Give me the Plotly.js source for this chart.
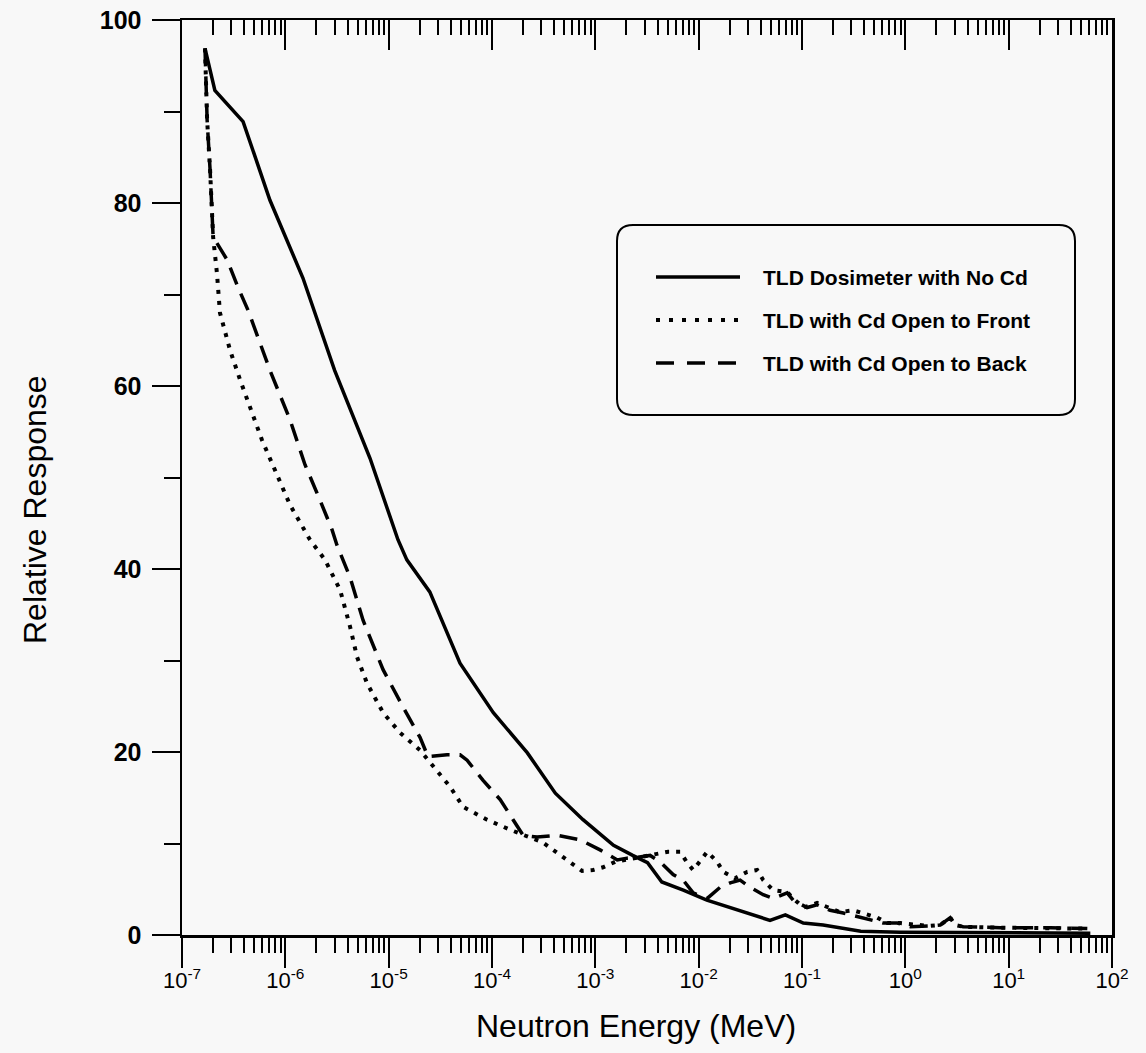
<!DOCTYPE html>
<html>
<head>
<meta charset="utf-8">
<script src="https://cdn.plot.ly/plotly-3.0.1.min.js"></script>
<style>html,body{margin:0;padding:0;background:#f8f8f8;}</style>
</head>
<body>
<div id="chart" style="width:1146px;height:1053px;"></div>
<script>
// ---- data (energy in MeV, relative response) ----
var seriesNames = ["TLD Dosimeter with No Cd", "TLD with Cd Open to Front", "TLD with Cd Open to Back"];

var energyNoCd = [1.67e-7, 2.08e-7, 3.9e-7, 7.1e-7, 1.48e-6, 3.0e-6, 6.6e-6, 1.23e-5, 1.5e-5, 2.5e-5, 4.9e-5,
  1.03e-4, 2.2e-4, 4.1e-4, 7.6e-4, 1.5e-3, 2.3e-3, 3.2e-3, 4.4e-3, 7.1e-3, 1.2e-2, 2.0e-2, 3.4e-2, 4.9e-2,
  6.9e-2, 0.103, 0.16, 0.234, 0.37, 0.89, 8.3, 61.7];
var respNoCd = [96.9, 92.3, 88.9, 80.3, 71.8, 61.7, 52.1, 43.2, 41.0, 37.5, 29.7,
  24.3, 19.9, 15.5, 12.6, 9.8, 8.7, 7.9, 5.8, 4.9, 3.8, 3.0, 2.2, 1.6,
  2.2, 1.3, 1.1, 0.8, 0.4, 0.3, 0.2, 0.2];

var energyFront = [1.67e-7, 1.75e-7, 1.87e-7, 2.0e-7, 2.18e-7, 2.33e-7, 2.92e-7, 3.64e-7, 5.94e-7, 1.11e-6,
  1.73e-6, 2.42e-6, 3.39e-6, 4.23e-6, 4.94e-6, 6.18e-6, 8.83e-6, 1.29e-5, 2.01e-5, 2.94e-5, 3.93e-5, 5.25e-5,
  8.97e-5, 1.5e-4, 3.12e-4, 4.88e-4, 7.45e-4, 9.5e-4, 1.19e-3, 1.56e-3, 2.72e-3, 5.07e-3, 6.62e-3, 7.74e-3,
  8.85e-3, 1.03e-2, 1.21e-2, 1.51e-2, 1.73e-2, 2.25e-2, 2.95e-2, 3.68e-2, 4.21e-2, 5.26e-2, 7.19e-2, 8.22e-2,
  0.103, 0.14, 0.175, 0.234, 0.313, 0.391, 0.535, 0.668, 0.893, 1.31, 1.74, 2.18, 2.72, 3.04, 3.63, 8.3, 25.3, 57.7];
var respFront = [96.9, 89.1, 83.6, 76.3, 72.3, 68.0, 63.9, 60.7, 54.1, 47.0,
  43.2, 41.0, 37.7, 33.7, 30.4, 27.5, 24.3, 22.1, 20.2, 18.0, 16.2, 14.0,
  12.6, 11.5, 10.1, 8.5, 7.0, 7.1, 7.4, 8.0, 8.5, 9.1, 9.1, 7.9,
  7.1, 8.0, 9.1, 8.0, 6.9, 6.2, 6.9, 7.1, 6.0, 4.9, 4.7, 4.0,
  3.0, 3.5, 3.1, 2.5, 2.7, 2.4, 1.9, 1.3, 1.3, 1.1, 1.0, 1.1, 1.9, 1.1, 0.9, 0.8, 0.8, 0.7];

var energyBack = [1.67e-7, 1.75e-7, 1.87e-7, 2.0e-7, 2.73e-7, 3.48e-7, 4.35e-7, 7.11e-7, 1.11e-6, 1.55e-6,
  2.17e-6, 2.83e-6, 3.16e-6, 4.23e-6, 5.65e-6, 8.83e-6, 1.38e-5, 2.01e-5, 2.4e-5, 3.67e-5, 4.91e-5, 5.74e-5,
  8.2e-5, 1.2e-4, 1.6e-4, 2.0e-4, 2.73e-4, 4.27e-4, 7.13e-4, 1.11e-3, 1.63e-3, 2.03e-3, 2.54e-3, 3.39e-3,
  4.24e-3, 5.66e-3, 7.08e-3, 8.85e-3, 1.21e-2, 1.61e-2, 2.02e-2, 2.52e-2, 3.16e-2, 4.21e-2, 5.26e-2, 7.19e-2,
  8.22e-2, 0.112, 0.14, 0.187, 0.251, 0.343, 0.489, 0.611, 0.836, 1.12, 1.74, 2.18, 2.72, 3.04, 3.63, 8.3, 25.3, 57.7];
var respBack = [96.9, 89.1, 83.6, 76.3, 73.8, 70.8, 68.3, 61.7, 56.3, 51.4,
  47.5, 44.3, 42.6, 39.1, 34.4, 29.0, 24.9, 21.6, 19.5, 19.7, 19.7, 19.1,
  16.9, 14.8, 12.6, 10.9, 10.7, 10.9, 10.4, 9.3, 8.2, 8.4, 8.5, 8.7,
  8.0, 6.6, 6.0, 4.6, 4.0, 5.2, 5.7, 6.0, 5.2, 4.4, 4.0, 4.6,
  3.8, 3.0, 3.3, 2.7, 2.4, 2.0, 1.6, 1.3, 1.3, 0.9, 1.0, 1.1, 1.9, 1.1, 0.9, 0.8, 0.8, 0.7];

var xTickVals = [1e-7, 1e-6, 1e-5, 1e-4, 1e-3, 1e-2, 1e-1, 1e0, 1e1, 1e2];
var xTickText = ["10<sup>-7</sup>", "10<sup>-6</sup>", "10<sup>-5</sup>", "10<sup>-4</sup>", "10<sup>-3</sup>",
  "10<sup>-2</sup>", "10<sup>-1</sup>", "10<sup>0</sup>", "10<sup>1</sup>", "10<sup>2</sup>"];

var xTitle = "Neutron Energy (MeV)";
var yTitle = "Relative Response";

// ---- styles ----
var FONT = "Liberation Sans, Arial, sans-serif";
var INK = "#000000";
var BG = "#f8f8f8";
var dashStyles = ["solid", "4px,7px", "18px,10px"];
var lineWidths = [3.5, 4, 3.5];

var traces = [
  {x: energyNoCd, y: respNoCd, name: seriesNames[0], mode: "lines",
   line: {color: INK, width: lineWidths[0], dash: dashStyles[0]}, showlegend: false},
  {x: energyFront, y: respFront, name: seriesNames[1], mode: "lines",
   line: {color: INK, width: lineWidths[1], dash: dashStyles[1]}, showlegend: false},
  {x: energyBack, y: respBack, name: seriesNames[2], mode: "lines",
   line: {color: INK, width: lineWidths[2], dash: dashStyles[2]}, showlegend: false},
  // carrier for the top (inside-tick) axis
  {x: energyNoCd, y: respNoCd, xaxis: "x2", mode: "none", hoverinfo: "skip", showlegend: false}
];

// plot area in pixels
var L = 182, R = 34, T = 20, B = 118, W = 1146, H = 1053;
var pw = W - L - R, ph = H - T - B;
function px(x) { return (x - L) / pw; }
function py(y) { return (H - B - y) / ph; }

// legend box (rounded) and entries
var bx0 = px(617), bx1 = px(1075), by0 = py(415), by1 = py(225);
var rx = 16 / pw, ry = 16 / ph;
var boxPath = "M" + (bx0 + rx) + "," + by1 + " L" + (bx1 - rx) + "," + by1 +
  " Q" + bx1 + "," + by1 + " " + bx1 + "," + (by1 - ry) +
  " L" + bx1 + "," + (by0 + ry) + " Q" + bx1 + "," + by0 + " " + (bx1 - rx) + "," + by0 +
  " L" + (bx0 + rx) + "," + by0 + " Q" + bx0 + "," + by0 + " " + bx0 + "," + (by0 + ry) +
  " L" + bx0 + "," + (by1 - ry) + " Q" + bx0 + "," + by1 + " " + (bx0 + rx) + "," + by1 + " Z";

var rowY = [277, 320, 363];
var sampleDash = ["solid", "4px,9px", "18px,13px"];
var shapes = [{type: "path", xref: "paper", yref: "paper", path: boxPath,
  line: {color: INK, width: 2}, fillcolor: "rgba(0,0,0,0)"}];
var annotations = [];
for (var i = 0; i < 3; i++) {
  shapes.push({type: "line", xref: "paper", yref: "paper",
    x0: px(656), x1: px(740), y0: py(rowY[i]), y1: py(rowY[i]),
    line: {color: INK, width: lineWidths[i], dash: sampleDash[i]}});
  annotations.push({xref: "paper", yref: "paper", x: px(761), y: py(rowY[i]),
    xanchor: "left", yanchor: "middle", showarrow: false, text: seriesNames[i],
    font: {family: FONT, size: 21, color: INK, weight: "bold"}});
}
annotations.push({xref: "paper", yref: "paper", x: px(636), y: py(1026), xanchor: "center", yanchor: "middle",
  showarrow: false, text: xTitle, font: {family: FONT, size: 32, color: INK}});
annotations.push({xref: "paper", yref: "paper", x: px(35), y: py(510), xanchor: "center", yanchor: "middle",
  showarrow: false, text: yTitle, textangle: -90, font: {family: FONT, size: 32, color: INK}});

var layout = {
  width: W, height: H,
  margin: {l: L, r: R, t: T, b: B},
  paper_bgcolor: BG, plot_bgcolor: BG,
  font: {family: FONT, color: INK},
  showlegend: false,
  xaxis: {
    type: "log", range: [-7, 2], tickmode: "array", tickvals: xTickVals, ticktext: xTickText,
    ticks: "outside", ticklen: 30, tickwidth: 2, tickcolor: INK,
    minor: {dtick: "D1", ticks: "outside", ticklen: 15, tickwidth: 2, tickcolor: INK, showgrid: false},
    showline: true, linewidth: 2.5, linecolor: INK, showgrid: false, zeroline: false,
    tickfont: {family: FONT, size: 22, color: INK}, ticklabelstandoff: -6
  },
  xaxis2: {
    type: "log", range: [-7, 2], overlaying: "x", side: "top", anchor: "y",
    tickmode: "array", tickvals: xTickVals, showticklabels: false,
    ticks: "inside", ticklen: 30, tickwidth: 2, tickcolor: INK,
    minor: {dtick: "D1", ticks: "inside", ticklen: 15, tickwidth: 2, tickcolor: INK, showgrid: false},
    showline: true, linewidth: 2.5, linecolor: INK, showgrid: false, zeroline: false
  },
  yaxis: {
    range: [0, 100], tickmode: "linear", tick0: 0, dtick: 20,
    ticks: "outside", ticklen: 28, tickwidth: 2, tickcolor: INK,
    minor: {dtick: 10, ticks: "outside", ticklen: 16, tickwidth: 2, tickcolor: INK, showgrid: false},
    showline: true, linewidth: 2.5, linecolor: INK, mirror: true, showgrid: false, zeroline: false,
    tickfont: {family: FONT, size: 25, color: INK, weight: "bold"}, ticklabelstandoff: 5
  },
  shapes: shapes,
  annotations: annotations
};

Plotly.newPlot("chart", traces, layout, {staticPlot: true, displayModeBar: false});
</script>
</body>
</html>
